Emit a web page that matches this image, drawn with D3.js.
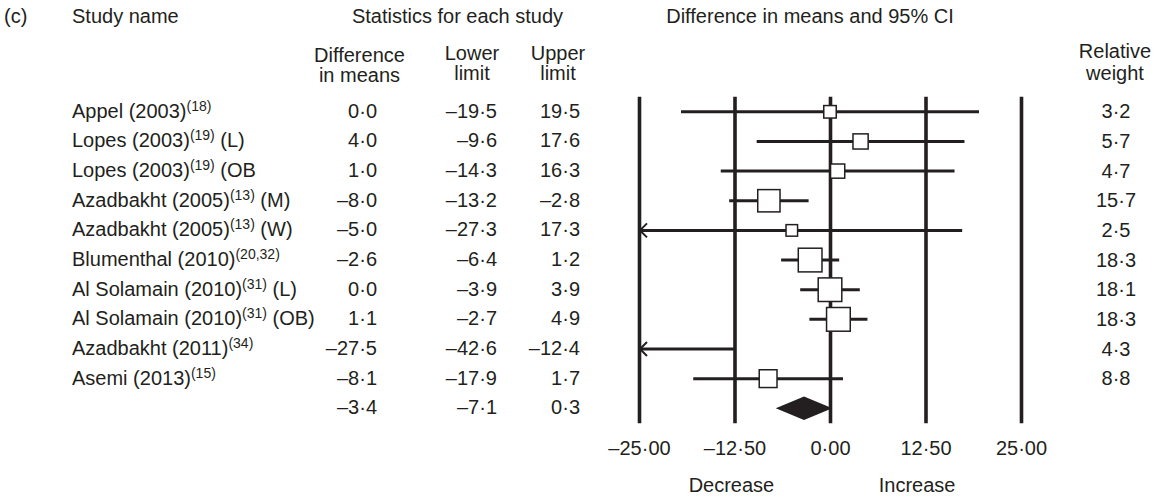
<!DOCTYPE html>
<html><head><meta charset="utf-8">
<script src="https://cdn.jsdelivr.net/npm/d3@7"></script>
<style>
html,body{margin:0;padding:0;background:#fff;}
svg{display:block;font-family:"Liberation Sans",Arial,Helvetica,sans-serif;}
</style></head><body>
<svg id="chart" width="1161" height="496"></svg>
<script>
// ---- data ----
const studies = ["Appel (2003)", "Lopes (2003)", "Lopes (2003)", "Azadbakht (2005)", "Azadbakht (2005)",
  "Blumenthal (2010)", "Al Solamain (2010)", "Al Solamain (2010)", "Azadbakht (2011)", "Asemi (2013)"];
const refs = ["(18)", "(19)", "(19)", "(13)", "(13)", "(20,32)", "(31)", "(31)", "(34)", "(15)"];
const suffixes = ["", " (L)", " (OB", " (M)", " (W)", "", " (L)", " (OB)", "", ""];
const diffMeans = [0.0, 4.0, 1.0, -8.0, -5.0, -2.6, 0.0, 1.1, -27.5, -8.1];
const lowerLimits = [-19.5, -9.6, -14.3, -13.2, -27.3, -6.4, -3.9, -2.7, -42.6, -17.9];
const upperLimits = [19.5, 17.6, 16.3, -2.8, 17.3, 1.2, 3.9, 4.9, -12.4, 1.7];
const weights = [3.2, 5.7, 4.7, 15.7, 2.5, 18.3, 18.1, 18.3, 4.3, 8.8];
const summaryDiff = -3.4, summaryLower = -7.1, summaryUpper = 0.3;
const tickValues = [-25, -12.5, 0, 12.5, 25];

// ---- setup ----
const ink = "#231f20";
const FS = 20;
const svg = d3.select("#chart");
const x = d3.scaleLinear().domain([-25, 25]).range([639, 1021]);
const y = d3.scaleLinear().domain([0, 10]).range([111.8, 408.3]);
const size = d3.scaleSqrt().domain([0, 18.3]).range([4.4, 23.7]);
const plotTop = 96.7, plotBottom = 423.3;

const fix = s => s.replace(/[-\u2212]/g, "\u2013").replace(".", "\u00b7");
const f1 = v => fix(d3.format(".1f")(v));
const f2 = v => fix(d3.format(".2f")(v));

function txt(xp, yp, s, anchor) {
  return svg.append("text").attr("x", xp).attr("y", yp).attr("fill", ink)
    .attr("font-size", FS).attr("text-anchor", anchor || "start").text(s);
}

// ---- headers ----
txt(4, 22.7, "(c)");
txt(72, 22.7, "Study name");
txt(457.5, 22.7, "Statistics for each study", "middle");
txt(810, 22.7, "Difference in means and 95% CI", "middle");
txt(359.5, 61.5, "Difference", "middle");
txt(359.5, 81.7, "in means", "middle");
txt(472, 60, "Lower", "middle");
txt(472, 80, "limit", "middle");
txt(558, 60, "Upper", "middle");
txt(558, 80, "limit", "middle");
txt(1115, 58.3, "Relative", "middle");
txt(1115, 80, "weight", "middle");

// ---- axis with full-height vertical lines ----
const axis = d3.axisBottom(x).tickValues(tickValues).tickSize(-(plotBottom - plotTop)).tickFormat(f2);
const ag = svg.append("g").attr("transform", `translate(0,${plotBottom})`).call(axis);
ag.select(".domain").remove();
ag.selectAll(".tick line").attr("stroke", ink).attr("stroke-width", 3.6);
ag.selectAll(".tick text").attr("y", 455 - plotBottom).attr("dy", 0)
  .attr("fill", ink).attr("font-size", FS).attr("font-family", "Liberation Sans, Arial, sans-serif");

txt(x(-12.9), 491.5, "Decrease", "middle");
txt(x(11.4), 491.5, "Increase", "middle");

// ---- rows ----
const rows = studies.map((s, i) => ({
  i, name: s, ref: refs[i], suf: suffixes[i], d: diffMeans[i], lo: lowerLimits[i], hi: upperLimits[i], w: weights[i]
}));

const nameT = svg.append("g").selectAll("text").data(rows).join("text")
  .attr("x", 72).attr("y", d => y(d.i) + 6).attr("fill", ink).attr("font-size", FS);
nameT.append("tspan").text(d => d.name);
nameT.append("tspan").attr("font-size", 14).attr("dy", -7).text(d => d.ref);
nameT.append("tspan").attr("dy", 7).text(d => d.suf);

const cols = [
  {key: "d", x: 377}, {key: "lo", x: 497}, {key: "hi", x: 580}
];
cols.forEach(c => {
  svg.append("g").selectAll("text").data(rows).join("text")
    .attr("x", c.x).attr("y", d => y(d.i) + 6).attr("text-anchor", "end")
    .attr("fill", ink).attr("font-size", FS).text(d => f1(d[c.key]));
});
svg.append("g").selectAll("text").data(rows).join("text")
  .attr("x", 1116).attr("y", d => y(d.i) + 6.5).attr("text-anchor", "middle")
  .attr("fill", ink).attr("font-size", FS).text(d => f1(d.w));

// summary values
[[377, summaryDiff], [497, summaryLower], [580, summaryUpper]].forEach(([xp, v]) => {
  txt(xp, y(10) + 6, f1(v), "end");
});

// ---- CI lines ----
const [dmin, dmax] = x.domain();
const ci = svg.append("g");
ci.selectAll("line").data(rows).join("line")
  .attr("x1", d => x(Math.max(d.lo, dmin))).attr("x2", d => x(Math.min(d.hi, dmax)))
  .attr("y1", d => y(d.i)).attr("y2", d => y(d.i))
  .attr("stroke", ink).attr("stroke-width", 3);

// arrows for truncated intervals
ci.selectAll("path.arrow").data(rows.filter(d => d.lo < dmin)).join("path")
  .attr("class", "arrow")
  .attr("d", d => {
    const x0 = x(dmin) + 1, yy = y(d.i);
    return `M${x0 + 7},${yy - 7}L${x0},${yy}L${x0 + 7},${yy + 7}`;
  })
  .attr("fill", "none").attr("stroke", ink).attr("stroke-width", 2);

// squares
svg.append("g").selectAll("rect").data(rows.filter(d => d.d >= dmin && d.d <= dmax)).join("rect")
  .attr("x", d => x(d.d) - size(d.w) / 2).attr("y", d => y(d.i) - size(d.w) / 2)
  .attr("width", d => size(d.w)).attr("height", d => size(d.w))
  .attr("fill", "#fff").attr("stroke", ink).attr("stroke-width", 1.5);

// summary diamond
const ys = y(10), hh = 11.7;
svg.append("path")
  .attr("d", `M${x(summaryLower)},${ys}L${x(summaryDiff)},${ys - hh}L${x(summaryUpper)},${ys}L${x(summaryDiff)},${ys + hh}Z`)
  .attr("fill", ink);
</script>
</body></html>
